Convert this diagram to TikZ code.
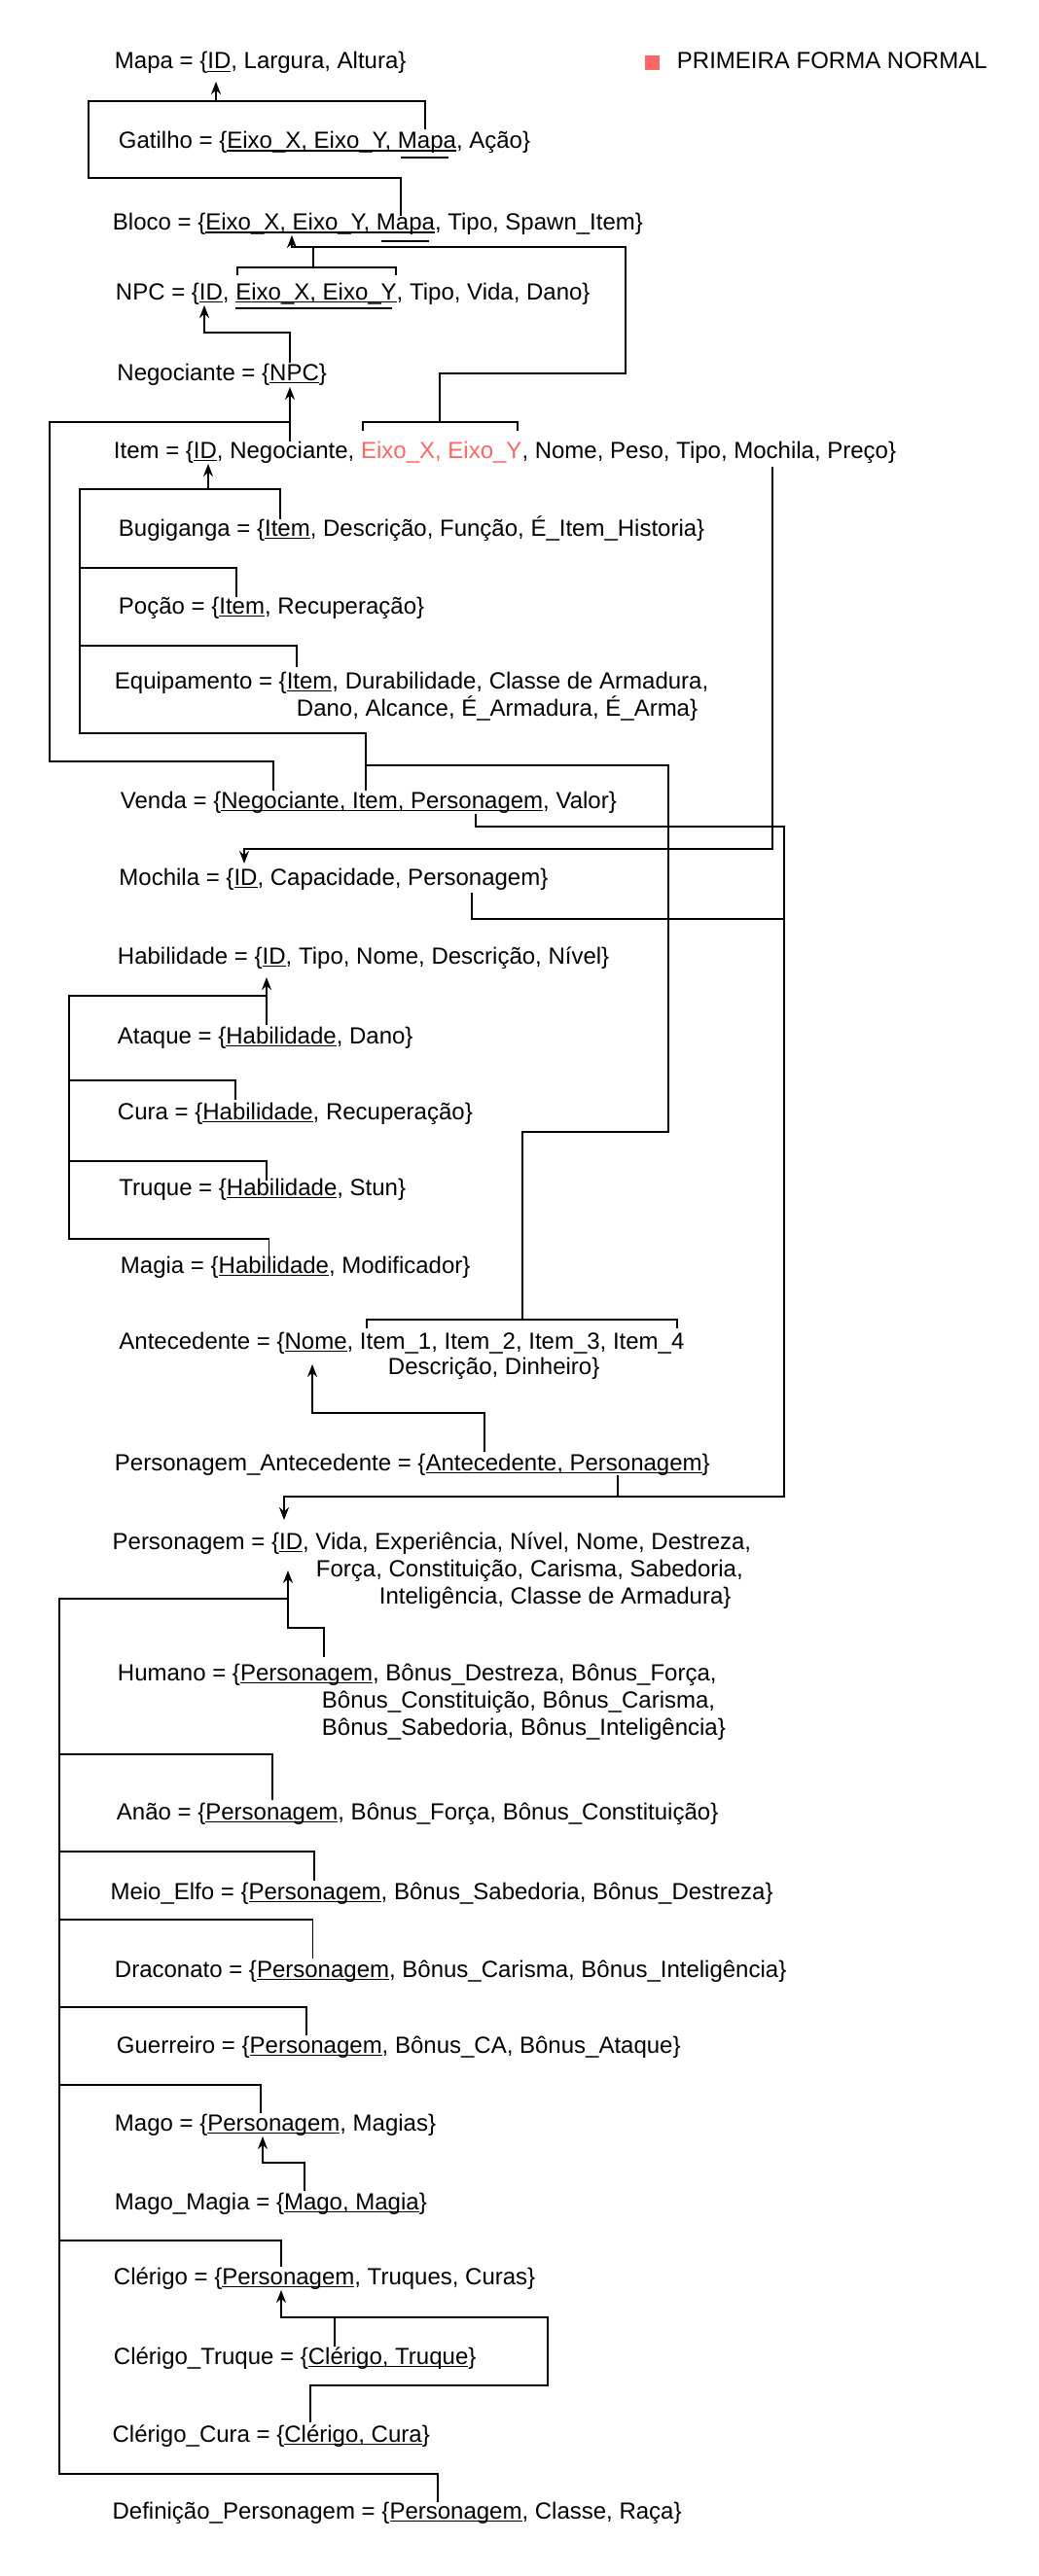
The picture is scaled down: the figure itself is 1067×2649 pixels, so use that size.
\documentclass[tikz,border=0pt]{standalone}
\usepackage{fontspec}
\setmainfont{Liberation Sans}
\usetikzlibrary{arrows.meta}
\definecolor{vermelho}{HTML}{FF6666}
\newcommand{\chave}[1]{\setbox0=\hbox{#1}\rlap{\rule[-1.6pt]{\wd0}{0.8pt}}\box0}
\begin{document}
\begin{tikzpicture}[x=0.5pt,y=-0.5pt,line width=0.95pt,>={Stealth[length=6.5pt,width=5pt]},
	font=\fontsize{12}{14.4}\selectfont,
	tab/.style={anchor=base west,inner sep=0pt}]
	\useasboundingbox (0,0) rectangle (1067,2649);
	% tabelas
	\node[tab] (mapa) at (117,71) {Mapa = \{\chave{ID}, Largura, Altura\}};
	\node[fill=vermelho,minimum size=7.5pt,inner sep=0pt] (marca) at (670.5,64.5) {};
	\node[tab] (legenda) at (695,71) {PRIMEIRA FORMA NORMAL};
	\node[tab] (gatilho) at (121,152.5) {Gatilho = \{\chave{Eixo\_X, Eixo\_Y, Mapa}, Ação\}};
	\node[tab] (bloco) at (115,236.5) {Bloco = \{\chave{Eixo\_X, Eixo\_Y, Mapa}, Tipo, Spawn\_Item\}};
	\node[tab] (npc) at (118,308) {NPC = \{\chave{ID}, \chave{Eixo\_X, Eixo\_Y}, Tipo, Vida, Dano\}};
	\node[tab] (negociante) at (119.5,391) {Negociante = \{\chave{NPC}\}};
	\node[tab] (item) at (116,471) {Item = \{\chave{ID}, Negociante, {\color{vermelho}Eixo\_X, Eixo\_Y}, Nome, Peso, Tipo, Mochila, Preço\}};
	\node[tab] (bugiganga) at (121,551) {Bugiganga = \{\chave{Item}, Descrição, Função, É\_Item\_Historia\}};
	\node[tab] (pocao) at (121,631) {Poção = \{\chave{Item}, Recuperação\}};
	\node[tab] (equipamento) at (117,708) {Equipamento = \{\chave{Item}, Durabilidade, Classe de Armadura,};
	\node[tab] (equipamento2) at (304,736) {Dano, Alcance, É\_Armadura, É\_Arma\}};
	\node[tab] (venda) at (123,831) {Venda = \{\chave{Negociante, Item, Personagem}, Valor\}};
	\node[tab] (mochila) at (121.5,910) {Mochila = \{\chave{ID}, Capacidade, Personagem\}};
	\node[tab] (habilidade) at (120,991) {Habilidade = \{\chave{ID}, Tipo, Nome, Descrição, Nível\}};
	\node[tab] (ataque) at (120,1073) {Ataque = \{\chave{Habilidade}, Dano\}};
	\node[tab] (cura) at (120,1151) {Cura = \{\chave{Habilidade}, Recuperação\}};
	\node[tab] (truque) at (121.5,1229) {Truque = \{\chave{Habilidade}, Stun\}};
	\node[tab] (magia) at (123,1309) {Magia = \{\chave{Habilidade}, Modificador\}};
	\node[tab] (antecedente) at (121.5,1387) {Antecedente = \{\chave{Nome}, Item\_1, Item\_2, Item\_3, Item\_4};
	\node[tab] (antecedente2) at (398,1413) {Descrição, Dinheiro\}};
	\node[tab] (persAntecedente) at (117,1512) {Personagem\_Antecedente = \{\chave{Antecedente, Personagem}\}};
	\node[tab] (personagem) at (114.7,1593) {Personagem = \{\chave{ID}, Vida, Experiência, Nível, Nome, Destreza,};
	\node[tab] (personagem2) at (324,1621) {Força, Constituição, Carisma, Sabedoria,};
	\node[tab] (personagem3) at (389,1649) {Inteligência, Classe de Armadura\}};
	\node[tab] (humano) at (120,1728) {Humano = \{\chave{Personagem}, Bônus\_Destreza, Bônus\_Força,};
	\node[tab] (humano2) at (330,1756) {Bônus\_Constituição, Bônus\_Carisma,};
	\node[tab] (humano3) at (330,1784) {Bônus\_Sabedoria, Bônus\_Inteligência\}};
	\node[tab] (anao) at (119,1871) {Anão = \{\chave{Personagem}, Bônus\_Força, Bônus\_Constituição\}};
	\node[tab] (meioElfo) at (112.6,1953) {Meio\_Elfo = \{\chave{Personagem}, Bônus\_Sabedoria, Bônus\_Destreza\}};
	\node[tab] (draconato) at (117,2033) {Draconato = \{\chave{Personagem}, Bônus\_Carisma, Bônus\_Inteligência\}};
	\node[tab] (guerreiro) at (119,2111) {Guerreiro = \{\chave{Personagem}, Bônus\_CA, Bônus\_Ataque\}};
	\node[tab] (mago) at (117,2191) {Mago = \{\chave{Personagem}, Magias\}};
	\node[tab] (magoMagia) at (117,2272) {Mago\_Magia = \{\chave{Mago, Magia}\}};
	\node[tab] (clerigo) at (116,2349) {Clérigo = \{\chave{Personagem}, Truques, Curas\}};
	\node[tab] (clerigoTruque) at (116,2431) {Clérigo\_Truque = \{\chave{Clérigo, Truque}\}};
	\node[tab] (clerigoCura) at (114.7,2511) {Clérigo\_Cura = \{\chave{Clérigo, Cura}\}};
	\node[tab] (definicao) at (114.7,2590) {Definição\_Personagem = \{\chave{Personagem}, Classe, Raça\}};
	% segundo sublinhado
	\draw (412,161.7) -- (461,161.7);
	\draw (392,247.7) -- (441,247.7);
	\draw (242,316.7) -- (403,316.7);
	% pontos de ligacao
	\coordinate (mapaID) at (222,84);
	\coordinate (gatilhoMapa) at (437,133);
	\coordinate (blocoMapa) at (412,222);
	\coordinate (blocoEixo) at (300,242);
	\coordinate (npcEixo) at (322,275);
	\coordinate (itemEixo) at (452,434);
	\coordinate (npcID) at (210,314);
	\coordinate (negociantePK) at (298,373);
	\coordinate (negocianteNPC) at (298,398);
	\coordinate (itemNegociante) at (298,454);
	\coordinate (vendaNegociante) at (281,813);
	\coordinate (itemID) at (214,477);
	\coordinate (itemLinha) at (214,503);
	\coordinate (bugigangaFK) at (288,534);
	\coordinate (pocaoFK) at (243,614);
	\coordinate (equipamentoFK) at (305,686);
	\coordinate (vendaItem) at (376,813);
	\coordinate (antecedenteItens) at (537,1357);
	\coordinate (itemMochila) at (794,480);
	\coordinate (mochilaID) at (251,888);
	\coordinate (vendaPersonagem) at (489,837);
	\coordinate (mochilaPersonagem) at (485,918);
	\coordinate (paPersonagem) at (635,1517);
	\coordinate (personagemTopo) at (292,1563);
	\coordinate (personagemID) at (296,1615);
	\coordinate (personagemLinha) at (296,1644);
	\coordinate (humanoFK) at (333,1704);
	\coordinate (habilidadeID) at (274,1005);
	\coordinate (habilidadeLinha) at (274,1024);
	\coordinate (ataqueFK) at (274,1054);
	\coordinate (curaFK) at (242,1131);
	\coordinate (truqueFK) at (274,1214);
	\coordinate (magiaFK) at (276.5,1294);
	\coordinate (antecedenteNome) at (321,1403);
	\coordinate (paAntecedente) at (498,1493);
	\coordinate (anaoFK) at (280,1851);
	\coordinate (meioElfoFK) at (323,1934);
	\coordinate (draconatoFK) at (321.5,2014);
	\coordinate (guerreiroFK) at (315,2093);
	\coordinate (magoFK) at (268,2173);
	\coordinate (clerigoFK) at (289,2331);
	\coordinate (definicaoFK) at (450,2573);
	\coordinate (magoPersonagem) at (270,2197);
	\coordinate (magoMagiaFK) at (313,2253);
	\coordinate (clerigoPersonagem) at (289,2355);
	\coordinate (clerigoTruqueFK) at (344,2413);
	\coordinate (clerigoCuraFK) at (319,2491);
	% ligacoes
	\draw[->] (gatilhoMapa) |- (222,104) -- (mapaID);
	\draw (blocoMapa) |- (91,183) |- (222,104);
	\draw (244,283) |- (npcEixo) -| (407,283);
	\draw[->] (npcEixo) |- (300,254) -- (blocoEixo);
	\draw (373,443) |- (itemEixo) -| (532,443);
	\draw (itemEixo) |- (643,384) |- (300,254);
	\draw[->] (negociantePK) |- (210,342) -- (npcID);
	\draw[->] (itemNegociante) -- (negocianteNPC);
	\draw (vendaNegociante) |- (51,783) |- (298,434);
	\draw[->] (bugigangaFK) |- (itemLinha) -- (itemID);
	\foreach \fk/\y in {pocaoFK/584,equipamentoFK/664,vendaItem/754}
		\draw (\fk) |- (82,\y) |- (itemLinha);
	\draw (377,1366) |- (antecedenteItens) -| (696,1366);
	\draw (antecedenteItens) |- (687,1164) |- (376,787);
	\draw[->] (itemMochila) |- (251,873) -- (mochilaID);
	\draw[->] (vendaPersonagem) |- (806,850) |- (292,1539) -- (personagemTopo);
	\draw (mochilaPersonagem) |- (806,945);
	\draw (paPersonagem) -- (635,1539);
	\draw[->] (ataqueFK) -- (habilidadeID);
	\foreach \fk/\y in {curaFK/1111,truqueFK/1194,magiaFK/1274}
		\draw (\fk) |- (71,\y) |- (habilidadeLinha);
	\draw[->] (paAntecedente) |- (321,1453) -- (antecedenteNome);
	\draw[->] (humanoFK) |- (296,1674) -- (personagemID);
	\foreach \fk/\y in {anaoFK/1804,meioElfoFK/1904,draconatoFK/1974,guerreiroFK/2064,magoFK/2144,clerigoFK/2304,definicaoFK/2544}
		\draw (\fk) |- (61,\y) |- (personagemLinha);
	\draw[->] (magoMagiaFK) |- (270,2224) -- (magoPersonagem);
	\draw[->] (clerigoTruqueFK) |- (289,2383) -- (clerigoPersonagem);
	\draw (clerigoCuraFK) |- (563,2453) |- (289,2383);
\end{tikzpicture}
\end{document}
